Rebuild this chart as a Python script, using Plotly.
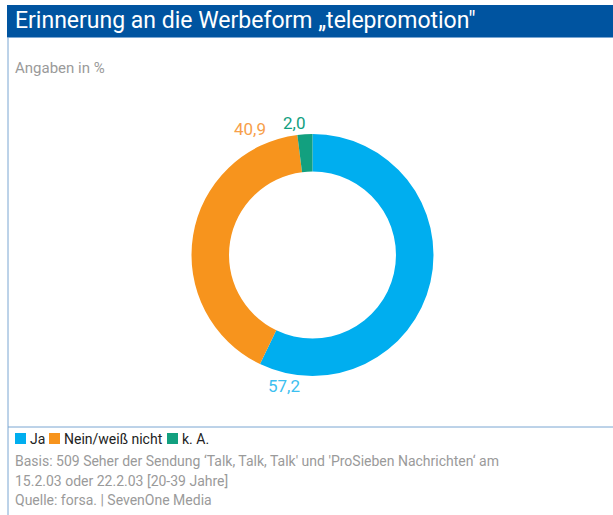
import plotly.graph_objects as go

# data
labels = ["Ja", "Nein/weiß nicht", "k. A."]
values = [57.2, 40.9, 2.0]
value_text = ["57,2", "40,9", "2,0"]
colors = ["#00aeef", "#f7941d", "#12a07f"]

W, H = 613, 515
FONT = "Roboto, Arial"


def px_x(x):
    return x / W


def px_y(y):
    return 1 - y / H


fig = go.Figure()
fig.add_trace(
    go.Pie(
        labels=labels,
        values=values,
        hole=0.69,
        sort=False,
        direction="clockwise",
        rotation=0,
        marker=dict(colors=colors, line=dict(width=0)),
        textinfo="none",
        hoverinfo="label+value",
        showlegend=False,
        domain=dict(x=[px_x(191), px_x(434)], y=[px_y(376), px_y(134)]),
    )
)

shapes = [
    # title bar
    dict(type="rect", xref="paper", yref="paper", x0=px_x(7), x1=1,
         y0=px_y(37), y1=px_y(5), fillcolor="#0054a0", line=dict(width=0)),
    dict(type="line", xref="paper", yref="paper", x0=px_x(7), x1=1,
         y0=px_y(37.5), y1=px_y(37.5), line=dict(color="#7aa6d2", width=1)),
    # left frame line
    dict(type="line", xref="paper", yref="paper", x0=px_x(8), x1=px_x(8),
         y0=0, y1=px_y(37), line=dict(color="#7aa6d2", width=1)),
    # separator above legend
    dict(type="line", xref="paper", yref="paper", x0=px_x(8), x1=1,
         y0=px_y(427), y1=px_y(427), line=dict(color="#7aa6d2", width=1)),
]

annotations = [
    dict(text="Erinnerung an die Werbeform „telepromotion\"", x=px_x(13), y=px_y(21),
         xanchor="left", yanchor="middle", showarrow=False,
         font=dict(family=FONT, size=23, color="white")),
    dict(text="Angaben in %", x=px_x(13), y=px_y(68), xanchor="left", yanchor="middle",
         showarrow=False, font=dict(family=FONT, size=15, color="#9a9a9a")),
]

# value labels around the ring
label_pos = [(284, 386), (250, 129), (294, 123)]
for (lx, ly), t, c in zip(label_pos, value_text, ["#3cc0f0", "#f7a04a", "#12a07f"]):
    annotations.append(
        dict(text=t, x=px_x(lx), y=px_y(ly), xanchor="center", yanchor="middle",
             showarrow=False, font=dict(family=FONT, size=17, color=c))
    )

# legend
legend_x = [(15, 28), (49, 62), (167, 180)]
for (sx, tx), lab, c in zip(legend_x, labels, colors):
    shapes.append(dict(type="rect", xref="paper", yref="paper", x0=px_x(sx), x1=px_x(sx + 11),
                       y0=px_y(444), y1=px_y(433), fillcolor=c, line=dict(width=0)))
    annotations.append(dict(text=lab, x=px_x(tx), y=px_y(439), xanchor="left", yanchor="middle",
                            showarrow=False, font=dict(family=FONT, size=14, color="#222222")))

footer = [
    "Basis: 509 Seher der Sendung ‘Talk, Talk, Talk' und 'ProSieben Nachrichten‘ am",
    "15.2.03 oder 22.2.03 [20-39 Jahre]",
    "Quelle: forsa. | SevenOne Media",
]
for i, line in enumerate(footer):
    annotations.append(dict(text=line, x=px_x(13), y=px_y(461 + i * 19.5), xanchor="left",
                            yanchor="middle", showarrow=False,
                            font=dict(family=FONT, size=14, color="#9a9a9a")))

fig.update_layout(
    width=W,
    height=H,
    margin=dict(l=0, r=0, t=0, b=0),
    paper_bgcolor="white",
    plot_bgcolor="white",
    shapes=shapes,
    annotations=annotations,
)

fig.write_html(
    "out.html",
    config={"displayModeBar": False},
    post_script="document.body.style.margin='0';document.body.style.overflow='hidden';",
)
